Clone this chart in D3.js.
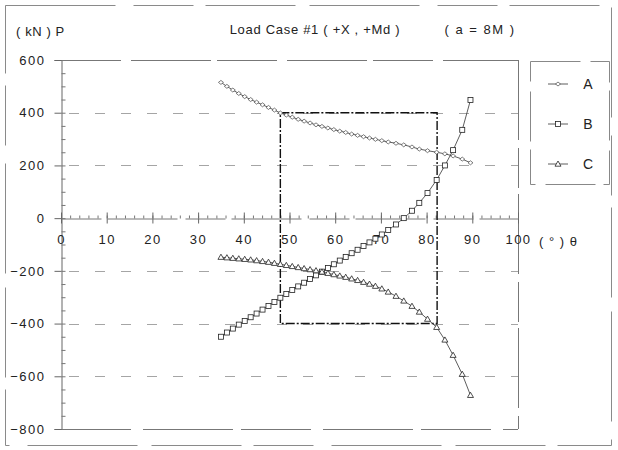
<!DOCTYPE html>
<html>
<head>
<meta charset="utf-8">
<script src="https://cdn.jsdelivr.net/npm/d3@7"></script>
<style>
  html, body { margin: 0; padding: 0; background: #fff; }
  svg { display: block; font-family: "Liberation Sans", Arial, sans-serif; }
</style>
</head>
<body>
<div id="chart"></div>
<script>
// ---------------- data ----------------
const theta = [35.0, 36.3, 37.6, 38.9, 40.2, 41.5, 42.8, 44.1, 45.4, 46.7, 48.0, 49.3, 50.6, 51.9,
  53.2, 54.5, 55.8, 57.1, 58.4, 59.7, 61.0, 62.3, 63.6, 64.9, 66.2, 67.5, 68.8, 70.2, 71.6, 73.3,
  75.0, 76.8, 78.4, 80.2, 82.2, 84.0, 85.8, 87.8, 89.6];
const seriesA = [515, 500, 486, 473, 461, 450, 440, 430, 420, 410, 399, 391, 383, 375,
  368, 361, 354, 348, 342, 336, 330, 325, 319, 314, 309, 304, 299, 294, 289, 284,
  278, 270, 262, 256, 250, 244, 236, 224, 210];
const seriesB = [-450, -434, -419, -404, -390, -376, -362, -347, -333, -318, -302, -288, -273, -259,
  -245, -231, -217, -203, -189, -175, -161, -147, -133, -120, -106, -92, -78, -62, -45, -24,
  0, 28, 58, 95, 145, 200, 258, 335, 448];
const seriesC = [-148, -150, -152, -154, -156, -158, -161, -164, -167, -171, -175, -179, -183, -187,
  -191, -195, -199, -204, -209, -214, -219, -224, -230, -236, -243, -250, -258, -268, -280, -296,
  -314, -334, -356, -383, -414, -462, -520, -592, -672];
const seriesNames = ["A", "B", "C"];
const xTicks = [0, 10, 20, 30, 40, 50, 60, 70, 80, 90, 100];
const yTicks = [600, 400, 200, 0, -200, -400, -600, -800];
const gridValues = [400, 200, -200, -400, -600];
const boxTheta = [48, 82.3];
const boxP = [-400, 400];
const titleText = "Load Case #1 ( +X , +Md )";
const subTitleText = "( a = 8M )";
const yAxisTitle = "( kN ) P";
const xAxisTitle = "( ° ) θ";

// ---------------- chart ----------------
const W = 618, H = 450;
const FONT = "Liberation Sans, Arial, sans-serif";
const svg = d3.select("#chart").append("svg").attr("width", W).attr("height", H);
svg.append("rect").attr("width", W).attr("height", H).attr("fill", "#fff");

const x = d3.scaleLinear().domain([0, 100]).range([61, 518]);
const y = d3.scaleLinear().domain([-800, 600]).range([429, 60]);

// outer frame (scanned, broken look)
svg.append("rect").attr("x", 5.5).attr("y", 5.5).attr("width", 606).attr("height", 440)
  .attr("fill", "none").attr("stroke", "#8a8a8a").attr("stroke-width", 1)
  .attr("stroke-dasharray", "110,18,60,12,90,14");

// grid lines
svg.append("g").selectAll("line").data(gridValues).join("line")
  .attr("x1", x(0) + 8).attr("x2", x(100))
  .attr("y1", d => Math.round(y(d)) + 0.5).attr("y2", d => Math.round(y(d)) + 0.5)
  .attr("stroke", "#a5a5a5").attr("stroke-width", 1).attr("stroke-dasharray", "10,16");

// plot frame: top, bottom, right
const frame = svg.append("g").attr("stroke", "#777").attr("stroke-width", 1).attr("fill", "none");
frame.append("line").attr("x1", x(0)).attr("x2", x(100)).attr("y1", y(600) + 0.5).attr("y2", y(600) + 0.5)
  .attr("stroke-dasharray", "60,10,80,6");
frame.append("line").attr("x1", x(0)).attr("x2", x(100)).attr("y1", y(-800) + 0.5).attr("y2", y(-800) + 0.5)
  .attr("stroke-dasharray", "70,12,90,8");
frame.append("line").attr("x1", Math.round(x(100)) + 0.5).attr("x2", Math.round(x(100)) + 0.5)
  .attr("y1", y(600)).attr("y2", y(-800)).attr("stroke-dasharray", "80,8,40,6");

// y axis
const yAxisG = svg.append("g").attr("transform", `translate(${Math.round(x(0)) + 0.5},0)`);
yAxisG.call(d3.axisLeft(y).tickValues(yTicks).tickSize(7).tickPadding(9)
  .tickFormat(d => d === 0 ? "0" : d3.format("d")(d).replace("-", "\u2212")));
svg.append("g").attr("transform", `translate(${Math.round(x(0)) + 0.5},0)`)
  .call(d3.axisRight(y).tickValues(d3.range(-800, 601, 50)).tickSize(4).tickFormat(""))
  .call(g => g.select(".domain").remove())
  .selectAll("line").attr("stroke", "#777");
yAxisG.selectAll("text").attr("font-size", 13).attr("letter-spacing", 1.5).attr("fill", "#222").attr("font-family", FONT);
yAxisG.selectAll("line,path").attr("stroke", "#666");

// x axis at P = 0
const xAxisG = svg.append("g").attr("transform", `translate(0,${Math.round(y(0)) + 0.5})`);
xAxisG.call(d3.axisBottom(x).tickValues(xTicks).tickSize(5).tickPadding(11).tickSizeOuter(0));
svg.append("g").attr("transform", `translate(0,${Math.round(y(0)) + 0.5})`)
  .call(d3.axisTop(x).tickValues(d3.range(0, 101, 2)).tickSize(3).tickFormat("").tickSizeOuter(0))
  .call(g => g.select(".domain").remove())
  .selectAll("line").attr("stroke", "#777");
svg.append("g").attr("transform", `translate(0,${Math.round(y(0)) + 0.5})`)
  .call(d3.axisTop(x).tickValues(xTicks).tickSize(6).tickFormat("").tickSizeOuter(0))
  .call(g => g.select(".domain").remove())
  .selectAll("line").attr("stroke", "#666");
xAxisG.selectAll("text").attr("font-size", 13).attr("letter-spacing", 1.5).attr("fill", "#222").attr("font-family", FONT);
xAxisG.selectAll("line").attr("stroke", "#666");
xAxisG.select(".domain").attr("stroke", "#777").attr("stroke-dasharray", "40,6,70,8");

// dash-dot box
svg.append("rect")
  .attr("x", x(boxTheta[0])).attr("y", y(boxP[1]))
  .attr("width", x(boxTheta[1]) - x(boxTheta[0])).attr("height", y(boxP[0]) - y(boxP[1]))
  .attr("fill", "none").attr("stroke", "#111").attr("stroke-width", 1.4)
  .attr("stroke-dasharray", "9,2,2,2");

// series
const series = [
  { name: seriesNames[0], values: seriesA, marker: "diamond" },
  { name: seriesNames[1], values: seriesB, marker: "square" },
  { name: seriesNames[2], values: seriesC, marker: "triangle" }
];
const line = d3.line().x(d => x(d[0])).y(d => y(d[1]));

function drawMarker(g, type, cx, cy) {
  if (type === "square") {
    g.append("rect").attr("x", cx - 2.5).attr("y", cy - 2.5).attr("width", 5).attr("height", 5)
      .attr("fill", "#fff").attr("stroke", "#222").attr("stroke-width", 0.8);
  } else if (type === "triangle") {
    g.append("path").attr("d", `M${cx},${cy - 3}L${cx + 3},${cy + 2.2}L${cx - 3},${cy + 2.2}Z`)
      .attr("fill", "#fff").attr("stroke", "#222").attr("stroke-width", 0.8);
  } else {
    g.append("path").attr("d", `M${cx - 2.5},${cy}L${cx},${cy - 2}L${cx + 2.5},${cy}L${cx},${cy + 2}Z`)
      .attr("fill", "#fff").attr("stroke", "#444").attr("stroke-width", 0.7);
  }
}

series.forEach(s => {
  const pts = theta.map((t, i) => [t, s.values[i]]);
  svg.append("path").datum(pts).attr("d", line)
    .attr("fill", "none").attr("stroke", "#333").attr("stroke-width", 0.8);
  const mg = svg.append("g");
  pts.forEach(p => drawMarker(mg, s.marker, x(p[0]), y(p[1])));
});

// legend
const lg = svg.append("g");
lg.append("rect").attr("x", 530.5).attr("y", 61.5).attr("width", 79).attr("height", 123)
  .attr("fill", "#fff").attr("stroke", "#888").attr("stroke-dasharray", "50,10,40,8");
series.forEach((s, i) => {
  const ly = 84 + i * 40;
  lg.append("line").attr("x1", 548).attr("x2", 568).attr("y1", ly).attr("y2", ly)
    .attr("stroke", "#333").attr("stroke-width", 0.8);
  drawMarker(lg, s.marker, 558, ly);
  lg.append("text").attr("x", 588).attr("y", ly).attr("dy", "0.36em").attr("text-anchor", "middle")
    .attr("font-size", 14).attr("fill", "#222").text(s.name);
});

// titles
svg.append("text").attr("x", 315).attr("y", 29).attr("dy", "0.36em").attr("text-anchor", "middle")
  .attr("font-size", 13).attr("letter-spacing", 0.7).attr("fill", "#222").text(titleText);
svg.append("text").attr("x", 480).attr("y", 29).attr("dy", "0.36em").attr("text-anchor", "middle")
  .attr("font-size", 13).attr("letter-spacing", 1.5).attr("fill", "#222").text(subTitleText);
svg.append("text").attr("x", 16).attr("y", 31).attr("dy", "0.36em").attr("text-anchor", "start")
  .attr("font-size", 13).attr("letter-spacing", 0.6).attr("fill", "#222").text(yAxisTitle);
svg.append("text").attr("x", 539).attr("y", 241).attr("dy", "0.36em").attr("text-anchor", "start")
  .attr("font-size", 13).attr("letter-spacing", 1).attr("fill", "#222").text(xAxisTitle);
</script>
</body>
</html>
